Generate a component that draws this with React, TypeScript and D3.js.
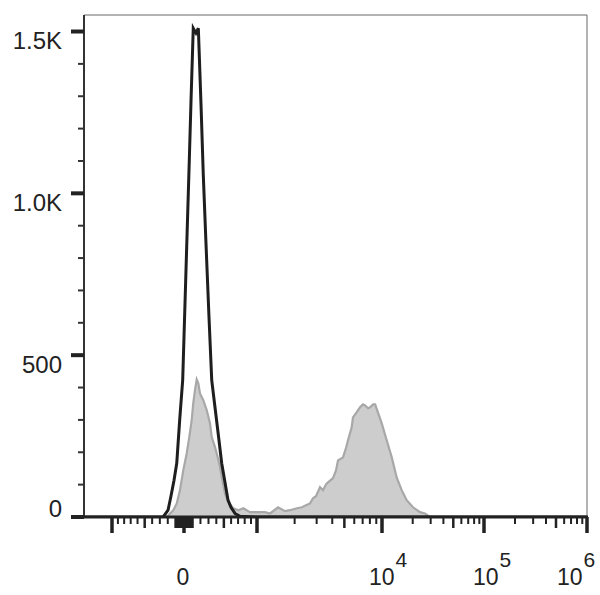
import { useEffect, useRef } from "react";
import * as d3 from "d3";

// black open histogram (unstained / control)
const blackX = [-2450, -260, -235, -197, -163, -123, -89, -53, -16, 0, 24, 64, 85, 112, 145, 174, 207, 235, 269, 306, 341, 383, 435, 471, 515, 557, 598, 655, 729, 1000, 1e6];
const blackY = [0, 0, 8, 21, 61, 113, 166, 299, 423, 556, 762, 1102, 1288, 1510, 1495, 1510, 1273, 1057, 843, 620, 423, 339, 237, 166, 107, 52, 30, 11, 2, 0, 0];

// gray filled histogram (stained sample)
const grayX = [-2450, -230, -193, -131, -89, -49, -9, 33, 64, 93, 112, 133, 154, 174, 194, 235, 278, 319, 341, 383, 405, 449, 471, 515, 561, 631, 704, 779, 883, 1057, 1159, 1271, 1472, 1675, 1837, 2089, 2291, 2466, 2655, 2805, 2963, 3192, 3373, 3564, 3700, 4055, 4285, 4447, 4876, 5152, 5346, 5720, 5860, 6280, 6670, 7050, 7320, 7740, 8030, 8490, 8810, 9320, 9940, 11120, 12450, 13930, 15590, 17460, 20130, 23570, 26360, 29500, 1e6];
const grayY = [0, 0, 5, 21, 42, 83, 144, 197, 247, 299, 352, 392, 425, 413, 382, 361, 330, 290, 247, 216, 197, 155, 124, 73, 46, 27, 21, 27, 15, 15, 15, 11, 30, 18, 21, 27, 30, 36, 42, 58, 64, 92, 83, 101, 107, 120, 144, 175, 184, 213, 237, 277, 308, 324, 339, 348, 345, 336, 339, 348, 348, 321, 290, 237, 185, 122, 83, 52, 30, 15, 11, 0, 0];

const yMajor = [0, 500, 1000, 1500];
const yLabels = ["0", "500", "1.0K", "1.5K"];
const xMajor = [-1000, 0, 1000, 1e4, 1e5, 1e6];
const xLabels = [
  { v: 0, base: "0", exp: "" },
  { v: 1e4, base: "10", exp: "4" },
  { v: 1e5, base: "10", exp: "5" },
  { v: 1e6, base: "10", exp: "6" },
];

// biexponential-like transform: asinh near zero, log10 above 10^3
function biex(v: number) {
  const a = Math.abs(v);
  const t = a <= 1000 ? Math.asinh(a / 1000) / Math.asinh(1) : 1 + Math.log10(a / 1000);
  return Math.sign(v) * t;
}

export default function App() {
  const ref = useRef<SVGSVGElement>(null);

  useEffect(() => {
    if (!ref.current) return;
    const svg = d3.select(ref.current);
    svg.selectAll("*").remove();

    const left = 84, right = 587, top = 15, bottom = 517;
    const font = "'Liberation Sans', Arial, sans-serif";

    const tScale = d3
      .scaleLinear()
      .domain([-1, 0, 1, 2, 3, 4])
      .range([112, 184, 257, 382, 484, right]);
    const x = (v: number) => tScale(biex(v));
    const y = d3.scaleLinear().domain([0, 1551]).range([bottom, top]);

    const grayData = grayX.map((v, i) => [v, grayY[i]] as [number, number]);
    const blackData = blackX.map((v, i) => [v, blackY[i]] as [number, number]);

    const clip = svg.append("defs").append("clipPath").attr("id", "plot");
    clip.append("rect").attr("x", left).attr("y", 0).attr("width", right - left).attr("height", bottom);

    const g = svg.append("g").attr("clip-path", "url(#plot)");

    const area = d3
      .area<[number, number]>()
      .x((d) => x(d[0]))
      .y0(y(0))
      .y1((d) => y(d[1]));
    const line = d3
      .line<[number, number]>()
      .x((d) => x(d[0]))
      .y((d) => y(d[1]));

    g.append("path").attr("d", area(grayData)).attr("fill", "#cdcdcd");
    g.append("path")
      .attr("d", line(grayData))
      .attr("fill", "none")
      .attr("stroke", "#a8a8a8")
      .attr("stroke-width", 2.2);
    g.append("path")
      .attr("d", line(blackData))
      .attr("fill", "none")
      .attr("stroke", "#1e1e1e")
      .attr("stroke-width", 3)
      .attr("stroke-linejoin", "miter");

    // frame
    svg.append("line").attr("x1", left).attr("x2", right).attr("y1", top).attr("y2", top)
      .attr("stroke", "#666").attr("stroke-width", 1);
    svg.append("line").attr("x1", right).attr("x2", right).attr("y1", top).attr("y2", bottom)
      .attr("stroke", "#666").attr("stroke-width", 1);
    svg.append("line").attr("x1", left).attr("x2", left).attr("y1", top).attr("y2", bottom)
      .attr("stroke", "#333").attr("stroke-width", 2);
    svg.append("line").attr("x1", left - 1).attr("x2", right + 1).attr("y1", bottom).attr("y2", bottom)
      .attr("stroke", "#222").attr("stroke-width", 3);

    // y ticks
    const yMinor = d3.range(100, 1600, 100).filter((v) => v % 500 !== 0);
    svg.selectAll(".ymin").data(yMinor).join("line")
      .attr("x1", 78).attr("x2", left).attr("y1", (d) => y(d)).attr("y2", (d) => y(d))
      .attr("stroke", "#333").attr("stroke-width", 2);
    svg.selectAll(".ymaj").data(yMajor).join("line")
      .attr("x1", 71).attr("x2", left).attr("y1", (d) => y(d)).attr("y2", (d) => y(d))
      .attr("stroke", "#222").attr("stroke-width", 4);
    svg.selectAll(".ylab").data(yMajor).join("text")
      .attr("x", 62)
      .attr("y", (d) => (d === 0 ? y(d) : y(d) + 17.5))
      .attr("text-anchor", "end")
      .style("font-family", font)
      .style("font-size", "24px")
      .attr("fill", "#222")
      .text((_, i) => yLabels[i]);

    // x ticks
    const minor: number[] = [];
    const medium: number[] = [];
    for (let k = 2; k <= 9; k++) {
      for (const base of [100, 1000, 10000, 100000]) {
        const v = k * base;
        (k === 5 ? medium : minor).push(v);
        if (base === 100) (k === 5 ? medium : minor).push(-v);
      }
    }
    const nearZero = d3.range(10, 101, 10).flatMap((v) => [v, -v]);

    svg.selectAll(".xmin").data(minor).join("line")
      .attr("x1", (d) => x(d)).attr("x2", (d) => x(d)).attr("y1", bottom).attr("y2", bottom + 7)
      .attr("stroke", "#222").attr("stroke-width", 2);
    svg.selectAll(".xmed").data(medium).join("line")
      .attr("x1", (d) => x(d)).attr("x2", (d) => x(d)).attr("y1", bottom).attr("y2", bottom + 11)
      .attr("stroke", "#222").attr("stroke-width", 2.5);
    svg.selectAll(".xzero").data(nearZero).join("line")
      .attr("x1", (d) => x(d)).attr("x2", (d) => x(d)).attr("y1", bottom).attr("y2", bottom + 11)
      .attr("stroke", "#222").attr("stroke-width", 3);
    svg.selectAll(".xmaj").data(xMajor).join("line")
      .attr("x1", (d) => x(d)).attr("x2", (d) => x(d)).attr("y1", bottom).attr("y2", bottom + 16)
      .attr("stroke", "#222").attr("stroke-width", 3.5);

    const labs = svg.selectAll(".xlab").data(xLabels).join("text")
      .attr("x", (d) => (d.exp ? x(d.v) - 13 + (d.v === 1e6 ? -17 : d.v === 1e5 ? 2 : 0) : x(d.v) - 1))
      .attr("y", 585)
      .attr("text-anchor", (d) => (d.exp ? "start" : "middle"))
      .style("font-family", font)
      .style("font-size", "23px")
      .attr("fill", "#222");
    labs.append("tspan").text((d) => d.base);
    labs.filter((d) => !!d.exp).append("tspan")
      .attr("dy", -18).attr("dx", 1)
      .style("font-size", "21px")
      .text((d) => d.exp);
  }, []);

  return (
    <svg
      ref={ref}
      width={600}
      height={595}
      style={{ position: "absolute", left: 0, top: 0, background: "#fff" }}
    ></svg>
  );
}
